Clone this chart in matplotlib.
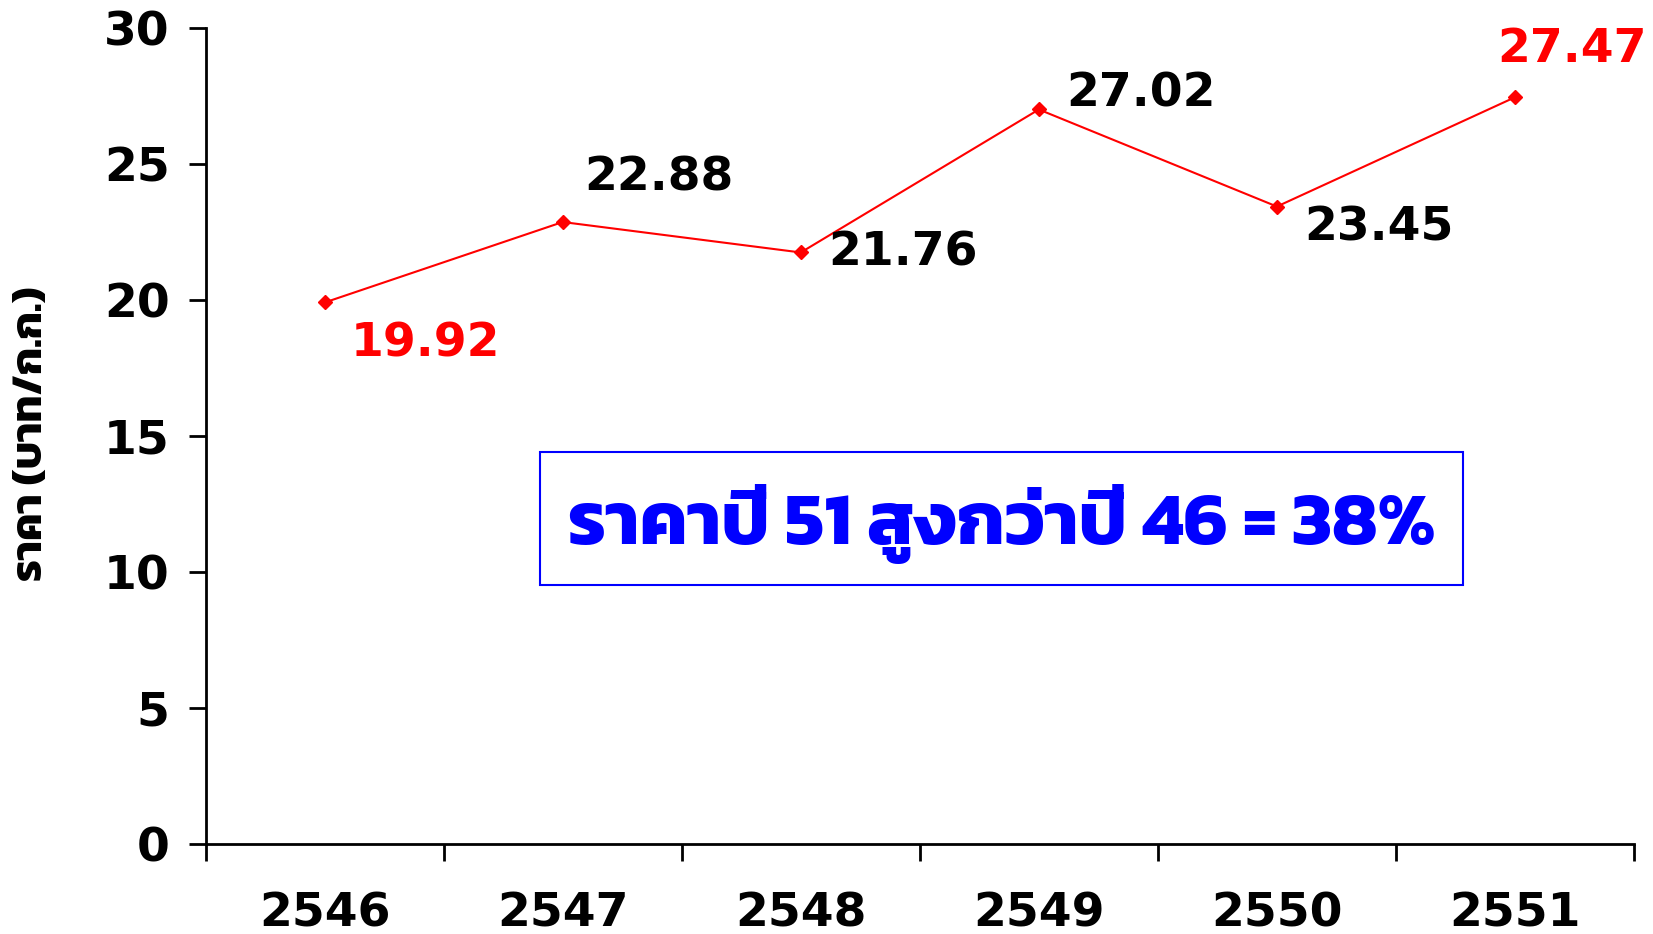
import matplotlib
matplotlib.use("Agg")
import matplotlib.pyplot as plt
from matplotlib.patches import Rectangle

years = ["2546", "2547", "2548", "2549", "2550", "2551"]
prices = [19.92, 22.88, 21.76, 27.02, 23.45, 27.47]
label_colors = ["red", "black", "black", "black", "black", "red"]
label_offsets = [(101, -42), (96, 44), (102, -1), (102, 15), (102, -21), (57, 48)]
y_label = "ราคา (บาท/ก.ก.)"
box_text = "ราคาปี 51 สูงกว่าปี 46 = 38%"
box_x = (1.404, 5.283)
box_y = (9.53, 14.42)

thai_family = ["Kanit", "DejaVu Sans"]
plt.rcParams["font.family"] = ["DejaVu Sans"]

W, H = 1653, 934
fig = plt.figure(figsize=(W / 100, H / 100), dpi=100)
ax = fig.add_axes([0.1244, 0.0964, 0.9885 - 0.1244, 0.9695 - 0.0964])

xs = [i + 0.5 for i in range(len(years))]
ax.plot(xs, prices, color="red", lw=1.5, marker="D", ms=7, mfc="red", mec="red")

for x, v, c, (dx, dy) in zip(xs, prices, label_colors, label_offsets):
    ax.annotate(f"{v:.2f}", (x, v), xytext=(dx, dy), textcoords="offset pixels",
                ha="center", va="center", fontsize=34, fontweight="bold", color=c)

ax.set_xlim(0, 6)
ax.set_ylim(0, 30)
ax.set_yticks(range(0, 31, 5))
ax.set_xticks(range(0, 7))
ax.set_xticklabels([])
ax.set_xticks(xs, minor=True)
ax.set_xticklabels(years, minor=True)
ax.tick_params(axis="x", which="minor", length=0, pad=34, labelsize=34)
ax.tick_params(axis="x", which="major", length=12, width=2, direction="out")
ax.tick_params(axis="y", length=12, width=2, direction="out", labelsize=34, pad=14)
for lab in ax.get_xticklabels(minor=True) + ax.get_yticklabels():
    lab.set_fontweight("bold")
for s in ["top", "right"]:
    ax.spines[s].set_visible(False)
for s in ["left", "bottom"]:
    ax.spines[s].set_linewidth(2)

fig.text(32 / W, 1 - 434 / H, y_label, rotation=90, ha="center", va="center",
         family=thai_family, fontsize=31, fontweight="bold")

ax.add_patch(Rectangle((box_x[0], box_y[0]), box_x[1] - box_x[0], box_y[1] - box_y[0],
                       fill=False, ec="blue", lw=1.5))
ax.annotate(box_text, (sum(box_x) / 2, sum(box_y) / 2), xytext=(0, -6),
            textcoords="offset pixels", ha="center", va="center",
            color="blue", fontsize=54, fontweight="bold", family=thai_family)

fig.savefig("out.png", dpi=100)
